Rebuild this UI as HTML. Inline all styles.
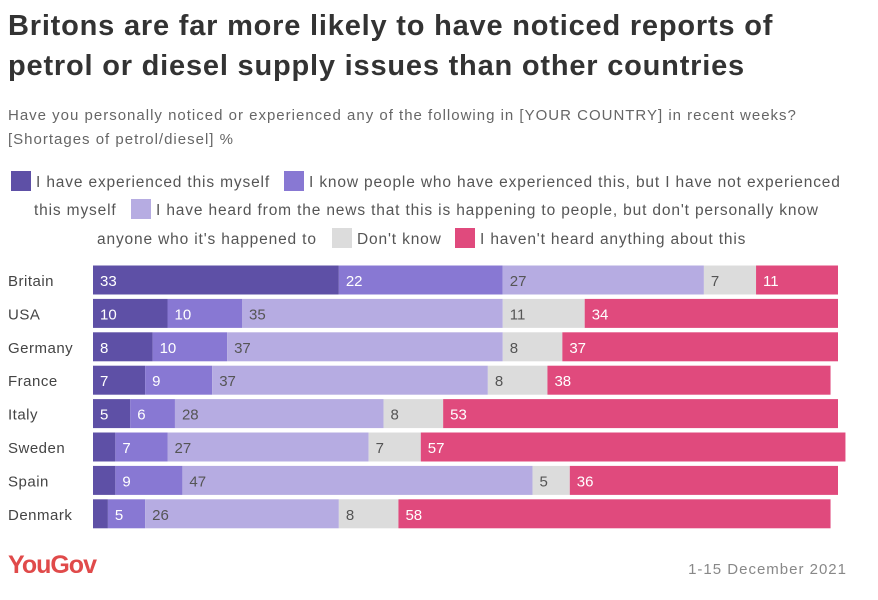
<!DOCTYPE html>
<html><head><meta charset="utf-8"><style>
body{margin:0;width:878px;height:600px;background:#fff;font-family:"Liberation Sans",sans-serif;position:relative;overflow:hidden;color:#444}
.abs{position:absolute;white-space:nowrap}
.sw{position:absolute;width:20px;height:20px}
.lg{position:absolute;font-size:15.5px;color:#555;white-space:nowrap;letter-spacing:0.85px}
</style></head><body>
<div class="abs" style="left:8px;top:6px;font-size:29px;font-weight:bold;color:#333;line-height:40px;letter-spacing:0.8px">Britons are far more likely to have noticed reports of<br>petrol or diesel supply issues than other countries</div>
<div class="abs" style="left:8px;top:104px;font-size:15px;color:#666;line-height:24px;letter-spacing:1px">Have you personally noticed or experienced any of the following in [YOUR COUNTRY] in recent weeks?<br>[Shortages of petrol/diesel] %</div>
<div>
<div class="sw" style="left:11px;top:171px;background:#5e50a6"></div>
<div class="lg" style="left:36px;top:174px">I have experienced this myself</div>
<div class="sw" style="left:284px;top:171px;background:#8878d3"></div>
<div class="lg" style="left:309px;top:174px">I know people who have experienced this, but I have not experienced</div>
<div class="lg" style="left:34px;top:202px">this myself</div>
<div class="sw" style="left:131px;top:199px;background:#b6ace2"></div>
<div class="lg" style="left:156px;top:202px">I have heard from the news that this is happening to people, but don't personally know</div>
<div class="lg" style="left:97px;top:231px">anyone who it's happened to</div>
<div class="sw" style="left:332px;top:228px;background:#dcdcdc"></div>
<div class="lg" style="left:357px;top:231px">Don't know</div>
<div class="sw" style="left:455px;top:228px;background:#e04a7d"></div>
<div class="lg" style="left:480px;top:231px">I haven't heard anything about this</div>
</div>
<svg id="chart" width="878" height="600" style="position:absolute;left:0;top:0"></svg>
<div class="abs" style="left:8px;top:551px;font-size:25px;color:#e04a4a;font-weight:bold;letter-spacing:-1px">YouGov</div>
<div class="abs" style="right:31px;top:561px;font-size:15px;color:#888;letter-spacing:1px">1-15 December 2021</div>
<script>
const countries=["Britain","USA","Germany","France","Italy","Sweden","Spain","Denmark"];
const experienced=[33,10,8,7,5,3,3,2];
const knowPeople=[22,10,10,9,6,7,9,5];
const news=[27,35,37,37,28,27,47,26];
const dontKnow=[7,11,8,8,8,7,5,8];
const notHeard=[11,34,37,38,53,57,36,58];
const series=[experienced,knowPeople,news,dontKnow,notHeard];
const names=["experienced","know-people","news","dont-know","not-heard"];
const colors=["#5e50a6","#8878d3","#b6ace2","#dcdcdc","#e04a7d"];
const txt=["#fff","#fff","#555","#555","#fff"];
const x0=93,pxPer=7.45,y0=265.5,step=33.4,bh=29;
const xs=v=>v*pxPer;
const svg=document.getElementById('chart');
const NS="http://www.w3.org/2000/svg";
countries.forEach((c,i)=>{
  const y=y0+i*step;
  const t=document.createElementNS(NS,'text');
  t.setAttribute('x',8);t.setAttribute('y',y+bh/2+6);
  t.setAttribute('font-size','15');t.setAttribute('fill','#444');
  t.setAttribute('letter-spacing','0.5');
  t.setAttribute('font-family','Liberation Sans, sans-serif');
  t.textContent=c;
  
  
  svg.appendChild(t);
  let acc=0;
  series.forEach((s,k)=>{
    const v=s[i];
    const r=document.createElementNS(NS,'rect');
    r.setAttribute('x',x0+xs(acc));r.setAttribute('y',y);
    r.setAttribute('width',xs(v));r.setAttribute('height',bh);
    r.setAttribute('fill',colors[k]);
    
    
    svg.appendChild(r);
    if(v>=4){
      const l=document.createElementNS(NS,'text');
      l.setAttribute('x',x0+xs(acc)+7);l.setAttribute('y',y+bh/2+6);
      l.setAttribute('font-size','15');l.setAttribute('fill',txt[k]);
      l.setAttribute('font-family','Liberation Sans, sans-serif');
      l.textContent=v;
      
      
      svg.appendChild(l);
    }
    acc+=v;
  });
});
</script>
</body></html>
